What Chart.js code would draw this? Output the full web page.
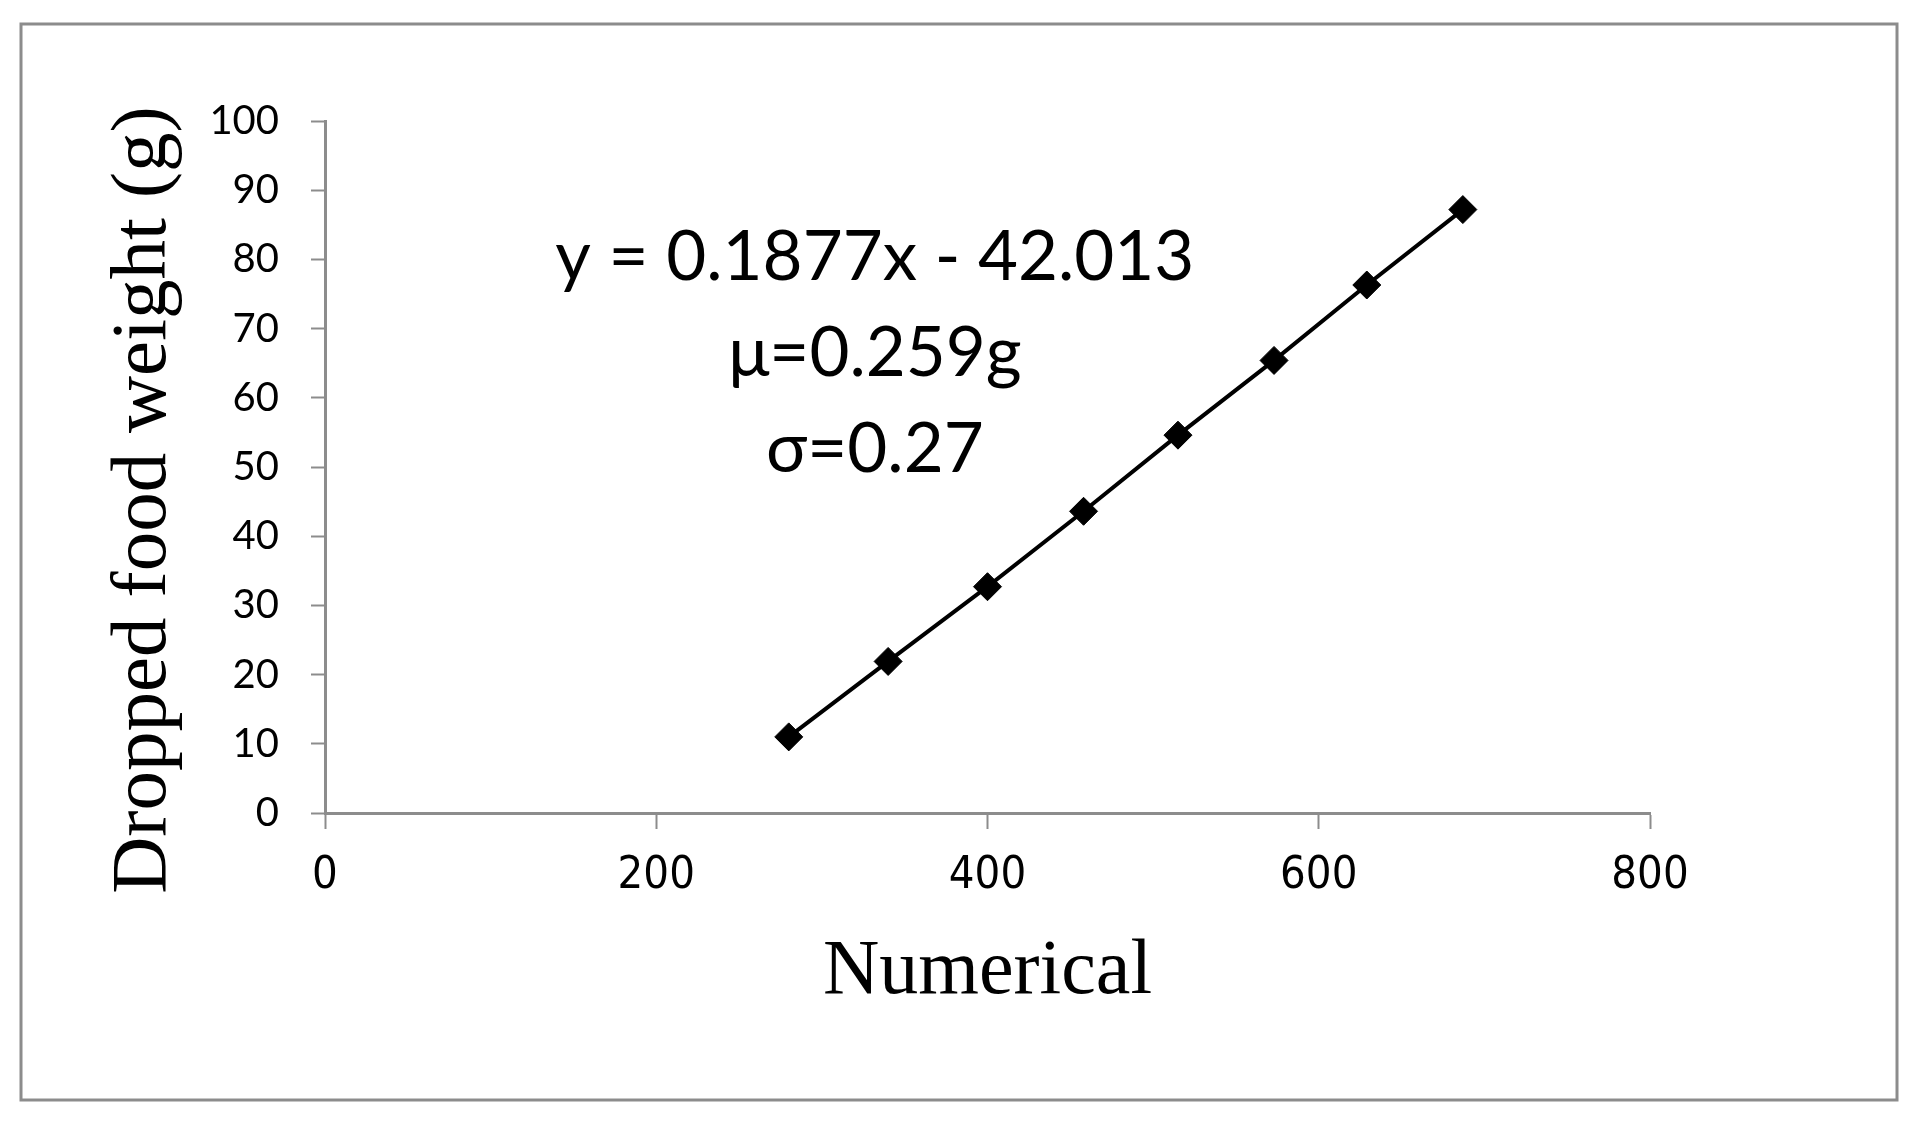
<!DOCTYPE html>
<html>
<head>
<meta charset="utf-8">
<script src="https://cdn.jsdelivr.net/npm/chart.js"></script>
<style>
    body { margin: 0; background: #fff; }
    #wrap { width: 1917px; height: 1128px; }
</style>
</head>
<body>
<div id="wrap"><canvas id="chart" width="1917" height="1128"></canvas></div>
<script>
// Values
const numerical = [280, 340, 400, 458, 515, 573, 629, 687];
const droppedWeight = [11.0, 21.9, 32.7, 43.6, 54.6, 65.4, 76.3, 87.2];
const xTicks = [0, 200, 400, 600, 800];
const yTicks = [0, 10, 20, 30, 40, 50, 60, 70, 80, 90, 100];
const noteLines = ['y = 0.1877x - 42.013', 'μ=0.259g', 'σ=0.27'];

const axisGray = '#8c8c8c';

// frame, annotation and the y title
const extrasPlugin = {
    id: 'extras',
    beforeDraw(chart) {
        const ctx = chart.ctx;
        ctx.save();
        ctx.fillStyle = '#fff';
        ctx.fillRect(0, 0, chart.width, chart.height);
        ctx.strokeStyle = axisGray;
        ctx.lineWidth = 3;
        ctx.strokeRect(21, 24, 1876, 1076);
        ctx.restore();
    },
    afterDraw(chart) {
        const ctx = chart.ctx;
        const x = chart.scales.x;
        const y = chart.scales.y;
        ctx.save();
        ctx.fillStyle = '#000';
        ctx.textAlign = 'center';
        ctx.textBaseline = 'middle';
        ctx.font = '69px Lato';
        const cx = x.getPixelForValue(332);
        noteLines.forEach((txt, i) => {
            ctx.fillText(txt, cx, y.getPixelForValue(80.2) + i * 96);
        });

        // y axis title
        ctx.translate(144, 500);
        ctx.rotate(-Math.PI / 2);
        ctx.font = '79px "Liberation Serif"';
        ctx.fillText('Dropped food weight (g)', 0, 0);
        ctx.restore();
    }
};

new Chart(document.getElementById('chart'), {
    type: 'scatter',
    data: {
        datasets: [{
            data: numerical.map((v, i) => ({ x: v, y: droppedWeight[i] })),
            showLine: true,
            borderColor: '#000',
            borderWidth: 4,
            pointStyle: 'rectRot',
            pointRadius: 14,
            pointBackgroundColor: '#000',
            pointBorderColor: '#000',
            pointBorderWidth: 1
        }]
    },
    options: {
        responsive: false,
        animation: false,
        layout: { padding: { left: 0, top: 121, right: 267, bottom: 0 } },
        plugins: {
            legend: { display: false },
            tooltip: { enabled: false }
        },
        scales: {
            x: {
                type: 'linear',
                min: 0,
                max: 800,
                afterBuildTicks: s => { s.ticks = xTicks.map(v => ({ value: v })); },
                afterFit: s => { s.height = 315; },
                border: { color: axisGray, width: 3 },
                grid: { drawOnChartArea: false, tickLength: 16, tickColor: axisGray, tickWidth: 2 },
                ticks: {
                    color: '#000',
                    padding: 20,
                    maxRotation: 0,
                    font: { family: '"DejaVu Sans Condensed", Lato', size: 45 }
                },
                title: {
                    display: true,
                    text: 'Numerical',
                    color: '#000',
                    font: { family: '"Liberation Serif"', size: 78, lineHeight: 1.2 },
                    padding: { top: 0, bottom: 109 }
                }
            },
            y: {
                type: 'linear',
                min: 0,
                max: 100,
                afterBuildTicks: s => { s.ticks = yTicks.map(v => ({ value: v })); },
                afterFit: s => { s.width = 325; },
                border: { color: axisGray, width: 3 },
                grid: { drawOnChartArea: false, tickLength: 14, tickColor: axisGray, tickWidth: 2 },
                ticks: {
                    color: '#000',
                    padding: 32,
                    font: { family: 'Lato', size: 40 }
                }
            }
        }
    },
    plugins: [extrasPlugin]
});
</script>
</body>
</html>
